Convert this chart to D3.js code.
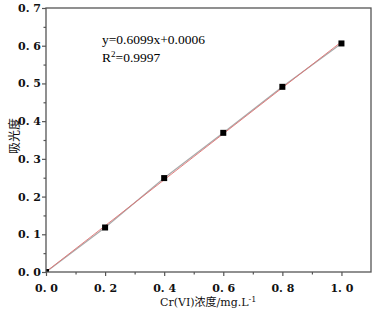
<!DOCTYPE html>
<html>
<head>
<meta charset="utf-8">
<script src="https://cdn.jsdelivr.net/npm/d3@7"></script>
<style>
  body { margin: 0; background: #fff; }
  svg { display: block; }
</style>
</head>
<body>
<svg id="chart" width="378" height="316"></svg>
<script>
// data
const concentration = [0.0, 0.2, 0.4, 0.6, 0.8, 1.0]
const absorbance = [0.0, 0.118, 0.249, 0.369, 0.491, 0.606]
const fitSlope = 0.6099
const fitIntercept = 0.0006
const xTicks = [0.0, 0.2, 0.4, 0.6, 0.8, 1.0]
const yTicks = [0.0, 0.1, 0.2, 0.3, 0.4, 0.5, 0.6, 0.7]
const eqText = "y=0.6099x+0.0006"
const r2Value = "=0.9997"

const svg = d3.select("#chart")
const margin = { top: 8, right: 7, bottom: 44, left: 46 }
const width = 378 - margin.left - margin.right
const height = 316 - margin.top - margin.bottom

const x = d3.scaleLinear().domain([0, 1.1]).range([0, width])
const y = d3.scaleLinear().domain([0, 0.7]).range([height, 0])

const g = svg.append("g").attr("transform", `translate(${margin.left},${margin.top})`)

g.append("clipPath").attr("id", "plot-clip")
  .append("rect").attr("width", width).attr("height", height)

const tickFont = "'DejaVu Serif', serif"
const axisColor = "#555"

// x axis major + minor
const xAxis = g.append("g").attr("transform", `translate(0,${height})`)
xAxis.call(d3.axisBottom(x).tickValues(xTicks).tickSize(4).tickFormat(d => d3.format(".1f")(d).replace(".", ". ")))
xAxis.append("g").call(d3.axisBottom(x).tickValues([0.1, 0.3, 0.5, 0.7, 0.9]).tickSize(2.5).tickFormat(""))
xAxis.selectAll(".domain").remove()
xAxis.selectAll("line").attr("stroke", axisColor).attr("stroke-width", 1.2)
xAxis.selectAll("text")
  .attr("y", 12)
  .style("font-family", tickFont).style("font-size", "11px").style("font-weight", "bold")
  .attr("fill", "#111")

// y axis major + minor
const yAxis = g.append("g")
yAxis.call(d3.axisLeft(y).tickValues(yTicks).tickSize(4).tickFormat(d => d3.format(".1f")(d).replace(".", ". ")))
yAxis.append("g").call(d3.axisLeft(y).tickValues([0.05, 0.15, 0.25, 0.35, 0.45, 0.55, 0.65]).tickSize(2.5).tickFormat(""))
yAxis.selectAll(".domain").remove()
yAxis.selectAll("line").attr("stroke", axisColor).attr("stroke-width", 1.2)
yAxis.selectAll("text")
  .attr("x", -5)
  .style("font-family", tickFont).style("font-size", "11px").style("font-weight", "bold")
  .attr("fill", "#111")

const pts = concentration.map((c, i) => [c, absorbance[i]])
const plot = g.append("g").attr("clip-path", "url(#plot-clip)")

// connecting line (grey)
plot.append("path")
  .datum(pts)
  .attr("fill", "none").attr("stroke", "#aaa").attr("stroke-width", 1.2)
  .attr("d", d3.line().x(d => x(d[0])).y(d => y(d[1])))

// linear fit (red)
const fitX = [concentration[0], concentration[concentration.length - 1]]
plot.append("path")
  .datum(fitX)
  .attr("fill", "none").attr("stroke", "#e07070").attr("stroke-width", 0.9)
  .attr("d", d3.line().x(d => x(d)).y(d => y(fitSlope * d + fitIntercept)))

// markers
plot.selectAll(".pt")
  .data(pts)
  .enter().append("rect")
  .attr("class", "pt")
  .attr("x", d => x(d[0]) - 3).attr("y", d => y(d[1]) - 3)
  .attr("width", 6).attr("height", 6)
  .attr("fill", "#000")

// frame
g.append("rect")
  .attr("width", width).attr("height", height)
  .attr("fill", "none").attr("stroke", axisColor).attr("stroke-width", 1.3)

// equation text
const eqFont = "'Liberation Serif', 'Times New Roman', serif"
svg.append("text")
  .attr("x", 102).attr("y", 44)
  .style("font-family", eqFont).style("font-size", "13.5px")
  .text(eqText)
const r2 = svg.append("text")
  .attr("x", 102).attr("y", 62)
  .style("font-family", eqFont).style("font-size", "13.5px")
r2.append("tspan").text("R")
r2.append("tspan").attr("dy", -5).style("font-size", "9px").text("2")
r2.append("tspan").attr("dy", 5).text(r2Value)

// axis titles
const xt = svg.append("text")
  .attr("x", 160).attr("y", 306)
  .style("font-family", "'DejaVu Serif', 'Noto Sans CJK SC', serif").style("font-size", "11px")
  .attr("fill", "#111")
xt.append("tspan").text("Cr(VI)浓度/mg.L")
xt.append("tspan").attr("dy", -4).style("font-size", "8px").text("-1")

svg.append("text")
  .attr("transform", "translate(19,136) rotate(-90)")
  .attr("text-anchor", "middle")
  .style("font-family", "'Noto Sans CJK SC', sans-serif").style("font-size", "12px")
  .attr("fill", "#111")
  .text("吸光度")
</script>
</body>
</html>
